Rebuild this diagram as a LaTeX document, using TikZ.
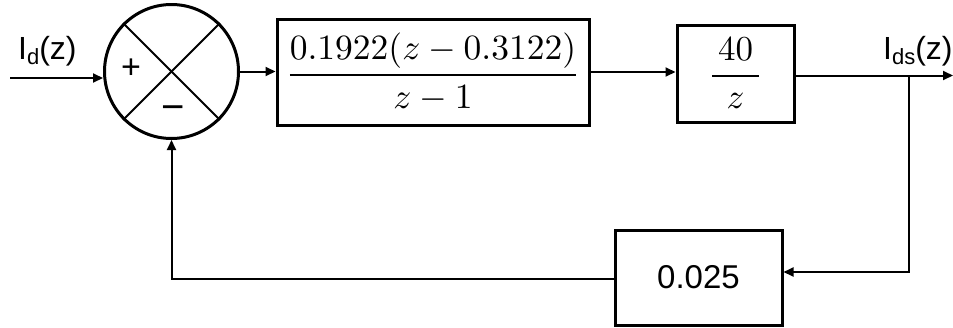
\documentclass[tikz,border=0pt]{standalone}
\usepackage[no-math]{fontspec}
\newfontfamily\arialf{Liberation Sans}
\usetikzlibrary{arrows.meta}
\tikzset{
  blk/.style={draw, line width=3pt, inner sep=0pt, rectangle},
  sumc/.style={draw, circle, line width=3pt, inner sep=0pt, minimum size=134pt},
  conn/.style={line width=2pt},
  arr/.style={conn, -{Triangle[length=10pt,width=9pt]}},
  lab/.style={inner sep=0pt, font=\arialf\fontsize{32}{35}\selectfont},
  sign/.style={inner sep=0pt},
}
\begin{document}
\begin{tikzpicture}[x=1pt,y=-1pt]
\useasboundingbox (0,0) rectangle (953,327);
% summing junction
\node[sumc] (sum) at (171.5,71.5) {};
\draw[conn] (sum.north west) -- (sum.south east);
\draw[conn] (sum.north east) -- (sum.south west);
\node[sign, font=\arialf\fontsize{34}{36}\selectfont] (plus) at (131,69) {+};
\node[sign, font=\arialf\fontsize{40}{40}\selectfont] (minus) at (173,113) {−};
% input
\coordinate (in) at (10,78);
\node[lab, anchor=base west] (lin) at (18,59) {I\raisebox{-5pt}{\fontsize{22}{22}\selectfont d}(z)};
\draw[arr] (in) -- (in -| sum.west);
% forward blocks
\node[blk, minimum width=312pt, minimum height=106pt] (g1) at (433,72) {\scalebox{3.55}{$\displaystyle\frac{0.1922(z-0.3122)}{z-1}$}};
\node[blk, minimum width=117pt, minimum height=97pt] (g2) at (735.5,73.5) {\scalebox{3.5}{$\displaystyle\frac{\,40\,}{z}$}};
\draw[arr] (sum.east) -- (sum.east -| g1.west);
\draw[arr] (g1.east) -- (g1.east -| g2.west);
% output
\coordinate (out) at (953,75.5);
\coordinate (br) at (909,75.5);
\draw[arr] (g2.east |- out) -- (out);
\node[lab, anchor=base west] (lout) at (883,59) {I\raisebox{-5pt}{\fontsize{22}{22}\selectfont ds}(z)};
% feedback
\node[blk, minimum width=167pt, minimum height=95pt, font=\arialf\fontsize{33}{36}\selectfont] (h) at (698.5,277.5) {0.025};
\coordinate (fb1) at (909,272);
\coordinate (fb2) at (171.5,279);
\draw[arr] (br) -- (fb1) -- (fb1 -| h.east);
\draw[arr] (fb2 -| h.west) -- (fb2) -- (sum.south);
\end{tikzpicture}
\end{document}
